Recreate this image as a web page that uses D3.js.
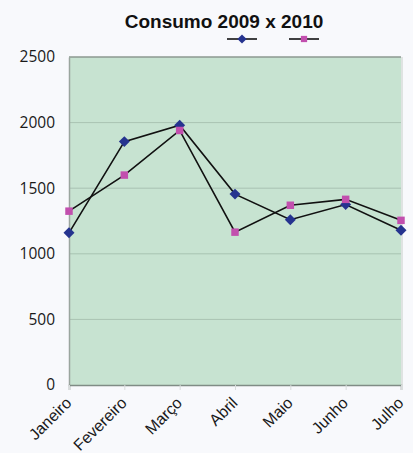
<!DOCTYPE html>
<html>
<head>
<meta charset="utf-8">
<script src="https://cdn.jsdelivr.net/npm/d3@7/dist/d3.min.js"></script>
<style>
  html, body { margin: 0; padding: 0; background: #f8f9fc; }
  svg { display: block; }
</style>
</head>
<body>
<svg id="chart" width="413" height="453"></svg>
<script>
// Monthly consumption, 2009 vs 2010
const months = ["Janeiro", "Fevereiro", "Março", "Abril", "Maio", "Junho", "Julho"];
const consumo2009 = [1160, 1855, 1980, 1455, 1260, 1375, 1180];
const consumo2010 = [1325, 1600, 1940, 1165, 1370, 1415, 1255];
const yTicks = [0, 500, 1000, 1500, 2000, 2500];

const svg = d3.select("#chart");
const margin = { left: 69, right: 12, top: 57, bottom: 68 };
const W = 413, H = 453;

const x = d3.scalePoint().domain(months).range([margin.left, W - margin.right]);
const y = d3.scaleLinear().domain([0, 2500]).range([H - margin.bottom, margin.top]);

// plot area
svg.append("rect")
  .attr("x", margin.left).attr("y", margin.top)
  .attr("width", W - margin.right - margin.left)
  .attr("height", H - margin.bottom - margin.top)
  .attr("fill", "#c7e3d1");

// horizontal gridlines
svg.append("g")
  .selectAll("line")
  .data(yTicks.filter(d => d > 0))
  .join("line")
  .attr("x1", margin.left).attr("x2", W - margin.right)
  .attr("y1", d => y(d)).attr("y2", d => y(d))
  .attr("stroke", d => d === 2500 ? "#8c9890" : "#a9c3b2")
  .attr("stroke-width", d => d === 2500 ? 1.5 : 1);

// right edge shading
svg.append("line")
  .attr("x1", W - margin.right + 1).attr("x2", W - margin.right + 1)
  .attr("y1", margin.top).attr("y2", H - margin.bottom)
  .attr("stroke", "#dfe3e2").attr("stroke-width", 2);

// y axis
const yAxis = svg.append("g")
  .attr("transform", `translate(${margin.left},0)`)
  .call(d3.axisLeft(y).tickValues(yTicks).tickSize(0).tickPadding(14).tickFormat(d3.format("d")));
yAxis.select(".domain").attr("stroke", "#9aa59e").attr("stroke-width", 1.5);
yAxis.selectAll("text")
  .attr("font-family", "Open Sans, Lato, sans-serif")
  .attr("font-size", 15.5)
  .attr("fill", "#1a1a1a");

// x axis
const xAxis = svg.append("g")
  .attr("transform", `translate(0,${H - margin.bottom})`)
  .call(d3.axisBottom(x).tickSize(5).tickPadding(0));
xAxis.select(".domain").attr("stroke", "#7f8c85").attr("stroke-width", 1.5);
xAxis.selectAll(".tick line").attr("stroke", "#d8dcdc");
xAxis.selectAll("text")
  .attr("font-family", "Liberation Sans, Arial, sans-serif")
  .attr("font-size", 16)
  .attr("fill", "#1a1a1a")
  .attr("text-anchor", "end")
  .attr("x", 0).attr("y", 0).attr("dy", 0)
  .attr("transform", "translate(3,19) rotate(-45)");

// diamond marker: a square turned 45 degrees
const diamond = {
  draw(ctx, size) {
    const r = Math.sqrt(size / 2);
    ctx.moveTo(0, -r); ctx.lineTo(r, 0); ctx.lineTo(0, r); ctx.lineTo(-r, 0); ctx.closePath();
  }
};

// series
const series = [
  { name: "2009", values: consumo2009, color: "#25338f", symbol: diamond, size: 60 },
  { name: "2010", values: consumo2010, color: "#c24fae", symbol: d3.symbolSquare, size: 56 }
];

const line = d3.line().x((d, i) => x(months[i])).y(d => y(d));

series.forEach(s => {
  svg.append("path")
    .datum(s.values)
    .attr("fill", "none")
    .attr("stroke", "#111")
    .attr("stroke-width", 1.6)
    .attr("d", line);
});

series.forEach(s => {
  svg.append("g")
    .selectAll("path")
    .data(s.values)
    .join("path")
    .attr("transform", (d, i) => `translate(${x(months[i])},${y(d)})`)
    .attr("d", d3.symbol().type(s.symbol).size(s.size))
    .attr("fill", s.color);
});

// title
svg.append("text")
  .attr("x", 224).attr("y", 28)
  .attr("text-anchor", "middle")
  .attr("font-family", "Liberation Sans, Arial, sans-serif")
  .attr("font-weight", "bold")
  .attr("font-size", 19)
  .attr("fill", "#111")
  .text("Consumo 2009 x 2010");

// legend (series without names)
const legend = svg.append("g");
series.forEach((s, i) => {
  const cx = i === 0 ? 242 : 304;
  legend.append("line")
    .attr("x1", cx - 15).attr("x2", cx + 15)
    .attr("y1", 39).attr("y2", 39)
    .attr("stroke", "#111").attr("stroke-width", 1.6);
  legend.append("path")
    .attr("transform", `translate(${cx},39)`)
    .attr("d", d3.symbol().type(s.symbol).size(s.size * 0.7))
    .attr("fill", s.color);
});
</script>
</body>
</html>
